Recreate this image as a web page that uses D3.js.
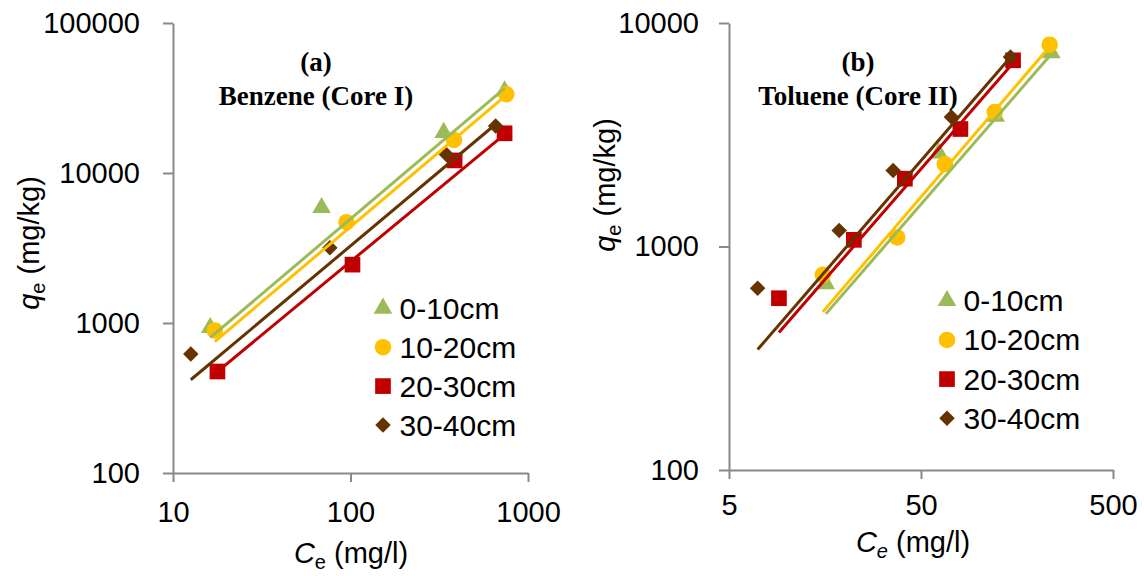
<!DOCTYPE html>
<html><head><meta charset="utf-8">
<script src="https://cdn.jsdelivr.net/npm/d3@7"></script>
<style>
body{margin:0;background:#fff}
svg text{font-family:"Liberation Sans",Arial,sans-serif;fill:#000}
</style>
</head><body>
<svg id="chart" width="1144" height="576"></svg>
<script>
// ---------- data ----------
const seriesNames = ["0-10cm", "10-20cm", "20-30cm", "30-40cm"];
const seriesColors = ["#9BBB59", "#FFC000", "#C00000", "#663300"];

// Panel (a) Benzene (Core I): Ce (mg/l), qe (mg/kg)
const aCe0 = [16.2, 68.7, 335, 738];
const aQe0 = [930, 5870, 18600, 35200];
const aCe1 = [17.2, 95, 383, 755];
const aQe1 = [892, 4700, 16600, 33500];
const aCe2 = [17.8, 102.6, 386, 738];
const aQe2 = [475, 2450, 12130, 18400];
const aCe3 = [12.6, 76.5, 347, 657];
const aQe3 = [621, 3170, 13300, 20570];
// power trendlines: log10(qe) = logK + n*log10(Ce)
const aSlope = [1.002, 1.000, 0.978, 0.992];
const aLogK = [1.690, 1.641, 1.453, 1.530];

// Panel (b) Toluene (Core II)
const bCe0 = [15.98, 61.9, 122.5, 238.7];
const bQe0 = [680, 2620, 3822, 7350];
const bCe1 = [15.4, 37.6, 66.5, 121, 234];
const bQe1 = [747, 1098, 2338, 3998, 8000];
const bCe2 = [9.1, 22.35, 41.2, 80.2, 150.8];
const bQe2 = [587, 1071, 2011, 3355, 6808];
const bCe3 = [7.05, 18.75, 35.8, 72.0, 146.2];
const bQe3 = [651, 1179, 2190, 3797, 7047];
const bSlope = [0.990, 1.005, 0.989, 0.993];
const bLogK = [1.507, 1.514, 1.667, 1.697];

const aXTicks = [10, 100, 1000];
const aYTicks = [100, 1000, 10000, 100000];
const bXTicks = [5, 50, 500];
const bYTicks = [100, 1000, 10000];

// ---------- drawing ----------
const svg = d3.select("#chart");
const AXIS = "#898989";

const diamond = {draw(ctx, size){const r = Math.sqrt(size)/Math.SQRT2; ctx.moveTo(0,-r);ctx.lineTo(r,0);ctx.lineTo(0,r);ctx.lineTo(-r,0);ctx.closePath();}};
const shapes = [
  d3.symbol(d3.symbolTriangle, 150),
  d3.symbol(d3.symbolCircle, 215),
  d3.symbol(d3.symbolSquare, 246),
  d3.symbol(diamond, 120)
];

function panel(cfg){
  const x = d3.scaleLog().domain(cfg.xDomain).range(cfg.xRange);
  const y = d3.scaleLog().domain(cfg.yDomain).range(cfg.yRange);
  const g = svg.append("g");

  const ya = g.append("g").attr("transform", `translate(${cfg.xRange[0]},0)`)
    .call(d3.axisLeft(y).tickValues(cfg.yTicks).tickFormat(d3.format("d"))
      .tickSize(10).tickSizeOuter(0).tickPadding(cfg.yPad));
  const xa = g.append("g").attr("transform", `translate(0,${cfg.yRange[0]})`)
    .call(d3.axisBottom(x).tickValues(cfg.xTicks).tickFormat(d3.format("d"))
      .tickSize(9).tickSizeOuter(0).tickPadding(cfg.xPad));
  [ya, xa].forEach(a => {
    a.selectAll("path,line").attr("stroke", AXIS).attr("stroke-width", 2);
    a.selectAll("text").attr("font-size", 29).attr("fill", "#000")
      .style("font-family", '"Liberation Sans",Arial,sans-serif');
  });

  // markers
  cfg.series.forEach((s, i) => {
    g.append("g").selectAll("path").data(s.ce.map((c, k) => [c, s.qe[k]])).join("path")
      .attr("d", shapes[i])
      .attr("transform", d => `translate(${x(d[0])},${y(d[1])})`)
      .attr("fill", seriesColors[i]);
  });
  // trendlines
  cfg.series.forEach((s, i) => {
    const ext = d3.extent(s.ce);
    const pts = ext.map(c => [c, Math.pow(10, cfg.logK[i] + cfg.slope[i] * Math.log10(c))]);
    g.append("path").datum(pts)
      .attr("d", d3.line().x(d => x(d[0])).y(d => y(d[1])))
      .attr("stroke", seriesColors[i]).attr("stroke-width", 3).attr("fill", "none");
  });

  // titles
  g.append("text").attr("x", cfg.titleX).attr("y", cfg.titleY1).attr("text-anchor", "middle")
    .style("font-family", '"Liberation Serif","Times New Roman",serif').attr("font-weight", "bold")
    .attr("font-size", 27).text(cfg.title1);
  g.append("text").attr("x", cfg.titleX).attr("y", cfg.titleY2).attr("text-anchor", "middle")
    .style("font-family", '"Liberation Serif","Times New Roman",serif').attr("font-weight", "bold")
    .attr("font-size", 27).text(cfg.title2);

  // x title
  const xt = g.append("text").attr("x", cfg.xTitleX).attr("y", cfg.xTitleY)
    .attr("text-anchor", "middle").attr("font-size", 29);
  xt.append("tspan").attr("font-style", "italic").text("C");
  xt.append("tspan").attr("font-size", 20).attr("dy", 6)
    .attr("font-style", cfg.subItalic ? "italic" : "normal").text("e");
  xt.append("tspan").attr("dy", -6).text(" (mg/l)");

  // y title
  const yt = g.append("text").attr("transform", `translate(${cfg.yTitleX},${cfg.yTitleY}) rotate(-90)`)
    .attr("text-anchor", "middle").attr("font-size", 29);
  yt.append("tspan").attr("font-style", "italic").text("q");
  yt.append("tspan").attr("font-size", 20).attr("dy", 6).text("e");
  yt.append("tspan").attr("dy", -6).text(" (mg/kg)");

  // legend
  cfg.series.forEach((s, i) => {
    const ly = cfg.legY + i * cfg.legStep;
    g.append("path").attr("d", shapes[i]).attr("fill", seriesColors[i])
      .attr("transform", `translate(${cfg.legX},${ly})`);
    g.append("text").attr("x", cfg.legX + 16.5).attr("y", ly + 10.5)
      .attr("font-size", 30).text(seriesNames[i]);
  });
}

panel({
  xDomain: [10, 1000], xRange: [173, 528],
  yDomain: [100, 100000], yRange: [473, 23],
  xTicks: aXTicks, yTicks: aYTicks, yPad: 23, xPad: 19,
  series: [{ce: aCe0, qe: aQe0}, {ce: aCe1, qe: aQe1}, {ce: aCe2, qe: aQe2}, {ce: aCe3, qe: aQe3}],
  slope: aSlope, logK: aLogK,
  title1: "(a)", title2: "Benzene (Core I)", titleX: 316, titleY1: 71, titleY2: 105,
  xTitleX: 351, xTitleY: 563, subItalic: false,
  yTitleX: 39, yTitleY: 243,
  legX: 383, legY: 308.3, legStep: 38.9
});

panel({
  xDomain: [5, 500], xRange: [729, 1113],
  yDomain: [100, 10000], yRange: [470, 23],
  xTicks: bXTicks, yTicks: bYTicks, yPad: 20, xPad: 15,
  series: [{ce: bCe0, qe: bQe0}, {ce: bCe1, qe: bQe1}, {ce: bCe2, qe: bQe2}, {ce: bCe3, qe: bQe3}],
  slope: bSlope, logK: bLogK,
  title1: "(b)", title2: "Toluene (Core II)", titleX: 858, titleY1: 71, titleY2: 105,
  xTitleX: 913, xTitleY: 552, subItalic: true,
  yTitleX: 615, yTitleY: 185,
  legX: 947, legY: 300.7, legStep: 39.2
});
</script>
</body></html>
